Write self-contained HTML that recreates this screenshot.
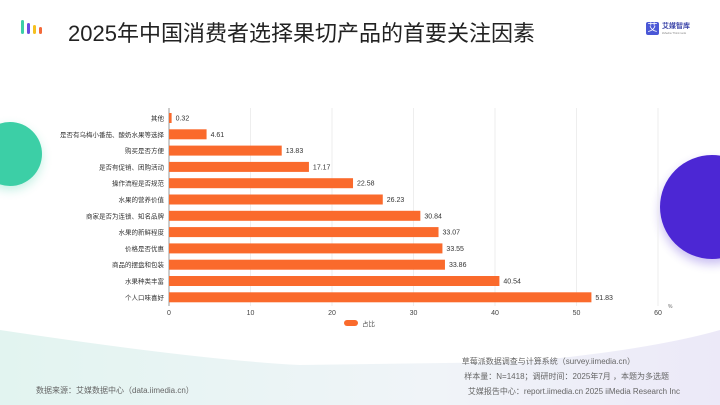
<!DOCTYPE html>
<html><head><meta charset="utf-8">
<style>
html,body{margin:0;padding:0}
body{width:720px;height:405px;overflow:hidden;position:relative;background:#fff;font-family:"Liberation Sans","Noto Sans CJK SC",sans-serif}
.t{position:absolute;white-space:nowrap}
</style></head><body>
<svg style="position:absolute;left:0;top:0" width="720" height="405">
<defs>
<linearGradient id="bg" x1="0" x2="1" y1="0" y2="0"><stop offset="0" stop-color="#e2f4f0"/><stop offset="0.6" stop-color="#f0f4f8"/><stop offset="1" stop-color="#ece9f8"/></linearGradient>
<filter id="sh" x="-50%" y="-50%" width="200%" height="200%"><feGaussianBlur stdDeviation="5"/></filter>
</defs>
<path d="M0 330 Q200 360 300 365 L520 362 Q650 350 720 330 L720 405 L0 405 Z" fill="url(#bg)"/>
<circle cx="10" cy="158" r="32" fill="#3ccfa6" opacity="0.3" filter="url(#sh)"/>
<circle cx="10" cy="154" r="32" fill="#3ccfa6"/>
<circle cx="712" cy="212" r="52" fill="#4c27d4" opacity="0.3" filter="url(#sh)"/>
<circle cx="712" cy="207" r="52" fill="#4c27d4"/>
</svg>
<svg style="position:absolute;left:18px;top:18px" width="26" height="20">
<rect x="3" y="2" width="3" height="14" rx="1.5" fill="#3ccfa6"/><rect x="9" y="5" width="3" height="11" rx="1.5" fill="#6a4be0"/><rect x="15" y="7" width="3" height="9" rx="1.5" fill="#f5c020"/><rect x="21" y="9" width="3" height="7" rx="1.5" fill="#f36a3a"/></svg>
<div class="t" style="left:68px;top:16px;font-size:22px;color:#222">2025年中国消费者选择果切产品的首要关注因素</div>
<div style="position:absolute;left:646px;top:22px;display:flex;align-items:center">
<div style="width:13px;height:13px;background:#4a57d6;color:#fff;font-size:10px;line-height:13px;text-align:center;border-radius:2px">艾</div>
<div style="margin-left:3px;font-size:7px;color:#3b44a8;line-height:8px"><b>艾媒智库</b><div style="font-size:3px;color:#888;line-height:4px">iiMedia Think tank</div></div></div>
<svg id="chart" style="position:absolute;left:0;top:0" width="720" height="405"></svg>
<div class="t" style="left:36px;top:385px;font-size:8px;color:#666">数据来源：艾媒数据中心（data.iimedia.cn）</div>
<div class="t" style="right:85px;top:356px;font-size:8px;color:#666">草莓派数据调查与计算系统（survey.iimedia.cn）</div>
<div class="t" style="right:51px;top:371px;font-size:8px;color:#666">样本量：N=1418；调研时间：2025年7月 ，本题为多选题</div>
<div class="t" style="right:40px;top:386px;font-size:8px;color:#666">艾媒报告中心：report.iimedia.cn   2025 iiMedia Research Inc</div>
<script>
const categories=["其他","是否有乌梅小番茄、酸奶水果等选择","购买是否方便","是否有促销、团购活动","操作流程是否规范","水果的营养价值","商家是否为连锁、知名品牌","水果的新鲜程度","价格是否优惠","商品的摆盘和包装","水果种类丰富","个人口味喜好"];
const values=[0.32,4.61,13.83,17.17,22.58,26.23,30.84,33.07,33.55,33.86,40.54,51.83];
const ticks=[0,10,20,30,40,50,60];
const NS="http://www.w3.org/2000/svg";
const svg=document.getElementById('chart');
const x0=169,x1=658,xmax=60;
const xs=v=>x0+(v/xmax)*(x1-x0);
const yTop=118,step=16.3,bh=10;
const ys=i=>yTop+i*step;
function mk(t,a){const e=document.createElementNS(NS,t);for(const k in a)e.setAttribute(k,a[k]);svg.appendChild(e);return e;}
ticks.forEach(t=>{
 if(t>0){const g=mk('line',{x1:xs(t),x2:xs(t),y1:108,y2:306,stroke:'#eee','stroke-width':1});
 
 }
 const l=mk('text',{x:xs(t),y:315,'font-size':7,fill:'#444','text-anchor':'middle'});l.textContent=t;
 
 
});
const ax=mk('line',{x1:x0,x2:x0,y1:108,y2:306,stroke:'#999','stroke-width':1});


const u=mk('text',{x:668,y:308,'font-size':5,fill:'#666'});u.textContent='%';


categories.forEach((c,i)=>{
 const y=ys(i);
 const r=mk('rect',{x:x0,y:y-bh/2,width:xs(values[i])-x0,height:bh,fill:'#fa6a2c'});
 
 
 const lb=mk('text',{x:164,y:y+2.5,'font-size':6.5,fill:'#333','text-anchor':'end'});lb.textContent=c;
 
 
 const v=mk('text',{x:xs(values[i])+4,y:y+2.5,'font-size':7,fill:'#333'});v.textContent=values[i];
 
 
});
const lg=mk('rect',{x:344,y:320,width:14,height:6,rx:3,fill:'#fa6a2c'});


const lt=mk('text',{x:362,y:326,'font-size':6.5,fill:'#555'});lt.textContent='占比';


</script>
</body></html>
